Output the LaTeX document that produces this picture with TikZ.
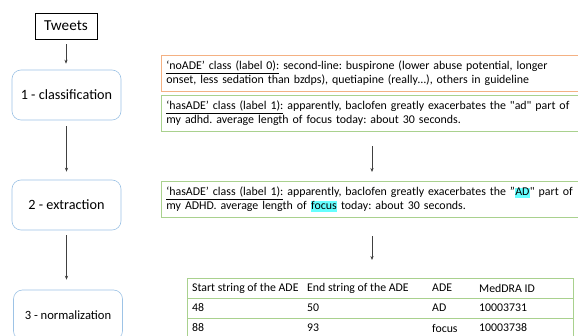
\documentclass[tikz,border=0pt]{standalone}
\usepackage{fontspec}
\setmainfont{Carlito}[Ligatures=TeXOff]
\usetikzlibrary{arrows.meta,calc}
\definecolor{stepblue}{HTML}{9DC3E6}
\definecolor{noadeorange}{HTML}{F4B183}
\definecolor{adegreen}{HTML}{A9D18E}
\definecolor{hlcyan}{HTML}{66FFFF}
\definecolor{arrgray}{HTML}{404040}
\newcommand{\hlword}[1]{{\setlength{\fboxsep}{0.4pt}\colorbox{hlcyan}{\vphantom{Ay}#1}}}
\tikzset{
  stepbox/.style={draw=stepblue, line width=0.6pt, rounded corners=9pt,
    minimum width=109pt, minimum height=50pt, align=center, font=\fontsize{14.2}{16}\selectfont},
  tweetbox/.style={draw=black, line width=0.6pt, minimum width=62pt, minimum height=26pt,
    font=\fontsize{15.2}{17}\selectfont},
  textbox/.style={line width=0.75pt, anchor=north west, minimum width=440pt, minimum height=36.5pt,
    text width=430pt, inner xsep=4pt, inner ysep=1pt, align=left,
    font=\fontsize{11.9}{14}\selectfont\frenchspacing},
  flow/.style={draw=arrgray, line width=0.6pt, -{Stealth[length=4pt,width=3.2pt]}},
  cell/.style={anchor=west, inner sep=0pt, font=\fontsize{11.8}{13}\selectfont},
  rowline/.style={draw=adegreen, line width=0.9pt}
}
\begin{document}
\begin{tikzpicture}[x=1pt,y=-1pt]
\useasboundingbox (0,0) rectangle (578,336);
\clip (0,0) rectangle (578,336);
\fill[white] (0,0) rectangle (578,336);

% pipeline steps
\node[tweetbox] (tw) at (66,26) {Tweets};
\node[stepbox] (cls) at (66.5,95) {1 - classification};
\node[stepbox] (ext) at (66.5,205) {2 - extraction};
\node[stepbox, font=\fontsize{12.6}{14}\selectfont] (nrm) at (68,315) {3 - normalization};

\draw[flow, shorten <=5pt, shorten >=6pt] (tw) -- (tw.south |- cls.north);
\draw[flow, shorten <=6pt, shorten >=8pt] (cls) -- (ext);
\draw[flow, shorten <=5pt, shorten >=10pt] (ext) -- (ext.south |- nrm.north);

% classification examples
\node[textbox, draw=noadeorange] (neg) at (161,55)
  {\underline{‘noADE’ class (label 0):} second-line: buspirone (lower abuse potential, longer\\
   onset, less sedation than bzdps), quetiapine (really…), others in guideline};
\node[textbox, draw=adegreen] (pos) at (161,95)
  {\underline{‘hasADE’ class (label 1):} apparently, baclofen greatly exacerbates the "ad" part of\\
   my adhd. average length of focus today: about 30 seconds.};

% extraction example
\node[textbox, draw=adegreen] (span) at (161,181)
  {\underline{‘hasADE’ class (label 1):} apparently, baclofen greatly exacerbates the ”\hlword{AD}" part of\\
   my ADHD. average length of \hlword{focus} today: about 30 seconds.};

% normalization table
\node[draw=adegreen, line width=0.9pt, anchor=north west, minimum width=386pt,
      minimum height=60pt, inner sep=0pt] (tbl) at (187,278) {};
\draw[rowline] (187,298) -- (573,298);
\draw[rowline] (187,318) -- (573,318);

\node[cell] (h1) at (192,288) {Start string of the ADE};
\node[cell] (h2) at (307,288) {End string of the ADE};
\node[cell] (h3) at (432,288) {ADE};
\node[cell] (h4) at (479,288) {MedDRA ID};
\node[cell] (a1) at (192,308) {48};
\node[cell] (a2) at (307,308) {50};
\node[cell] (a3) at (432,308) {AD};
\node[cell] (a4) at (479,308) {10003731};
\node[cell] (b1) at (192,328) {88};
\node[cell] (b2) at (307,328) {93};
\node[cell] (b3) at (432,328) {focus};
\node[cell] (b4) at (479,328) {10003738};

% flow on the right
\coordinate (rx) at (372,0);
\draw[flow, shorten <=14pt, shorten >=9pt] (pos.south -| rx) -- (span.north -| rx);
\draw[flow, shorten <=18pt, shorten >=18pt] (span.south -| rx) -- (tbl.north -| rx);
\end{tikzpicture}
\end{document}
